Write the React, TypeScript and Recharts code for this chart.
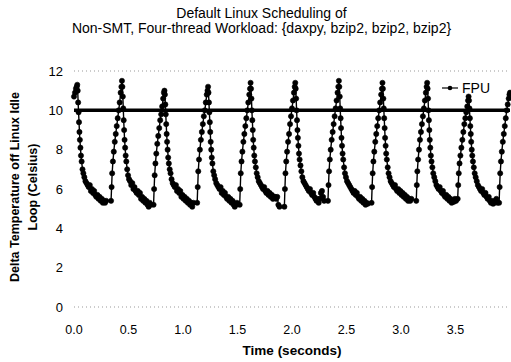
import React from "react";
import { LineChart, Line, XAxis, YAxis, ReferenceLine, Legend } from "recharts";

const FONT = '"Liberation Sans", Arial, Helvetica, sans-serif';

const titleLines = ["Default Linux Scheduling of", "Non-SMT, Four-thread Workload: {daxpy, bzip2, bzip2, bzip2}"];
const yTitleLines = ["Delta Temperature off Linux Idle", "Loop (Celsius)"];
const xTitle = "Time (seconds)";
const seriesName = "FPU";
const xTicks = [0, 0.5, 1.0, 1.5, 2.0, 2.5, 3.0, 3.5];
const yTicks = [0, 2, 4, 6, 8, 10, 12];
const thresholdValue = 10;

// seconds after each cycle's rise begins, at which a sample was taken
const sampleOffsets = [
  0, 0.005, 0.01, 0.017, 0.025, 0.034, 0.043, 0.052, 0.061, 0.07, 0.079, 0.088, 0.095, 0.1,
  0.104, 0.108, 0.112, 0.116, 0.12, 0.124, 0.129, 0.134, 0.14,
  0.148, 0.156, 0.165, 0.175, 0.185, 0.195,
  0.205, 0.215, 0.225, 0.235, 0.245, 0.255, 0.265, 0.275, 0.285, 0.295, 0.305, 0.315, 0.325, 0.335, 0.345, 0.355, 0.365,
];

const cycleStarts = [-0.07, 0.34, 0.73, 1.13, 1.52, 1.93, 2.33, 2.73, 3.14, 3.52, 3.9];

const cycle01 = [
  null, null, null, null, null, null, null, null, null, 10.7, 10.9, 11.1, 11.2, 11.3,
  11.0, 10.4, 9.9, 9.4, 8.9, 8.5, 8.1, 7.7, 7.4,
  7.0, 6.8, 6.6, 6.4, 6.3, 6.2,
  6.1, 6.2, 5.9, 6.0, 5.8, 5.9, 5.7, 5.6, 5.7, 5.5, 5.6, 5.4, 5.5, 5.3, 5.4, 5.3, 5.4,
];
const cycle02 = [
  5.4, 6.1, 6.8, 7.4, 7.9, 8.4, 8.8, 9.2, 9.6, 10.0, 10.4, 10.9, 11.2, 11.5,
  11.2, 10.7, 10.1, 9.5, 9.0, 8.5, 8.1, 7.7, 7.4,
  7.0, 6.7, 6.5, 6.4, 6.2, 6.3,
  6.0, 6.1, 5.9, 5.8, 5.9, 5.7, 5.8, 5.5, 5.6, 5.4, 5.5, 5.3, 5.4, 5.2, 5.1, 5.3, 5.2,
];
const cycle03 = [
  5.2, 6.0, 6.7, 7.3, 7.8, 8.3, 8.7, 9.1, 9.5, 9.8, 10.2, 10.6, 10.9, 11.0,
  10.8, 10.3, 9.8, 9.3, 8.8, 8.4, 8.0, 7.6, 7.3,
  7.0, 6.8, 6.5, 6.3, 6.2, 6.1,
  6.2, 5.9, 6.0, 5.8, 5.9, 5.6, 5.7, 5.5, 5.6, 5.4, 5.5, 5.3, 5.4, 5.2, 5.3, 5.1, 5.3,
];
const cycle04 = [
  5.3, 6.1, 6.9, 7.5, 8.0, 8.5, 8.9, 9.3, 9.7, 10.0, 10.4, 10.8, 11.0, 11.2,
  10.9, 10.4, 9.9, 9.4, 8.9, 8.4, 8.0, 7.6, 7.3,
  6.9, 6.7, 6.5, 6.3, 6.2, 6.1,
  6.0, 6.1, 5.8, 5.9, 5.7, 5.8, 5.6, 5.5, 5.6, 5.4, 5.5, 5.3, 5.4, 5.2, 5.1, 5.2, 5.3,
];
const cycle05 = [
  5.2, 6.0, 6.8, 7.4, 7.9, 8.4, 8.8, 9.2, 9.6, 10.0, 10.4, 10.8, 11.1, 11.4,
  11.1, 10.6, 10.0, 9.5, 9.0, 8.5, 8.1, 7.7, 7.4,
  7.1, 6.8, 6.6, 6.4, 6.3, 6.2,
  6.1, 6.0, 6.1, 5.9, 5.8, 5.9, 5.7, 5.8, 5.6, 5.7, 5.5, 5.6, 5.6, 5.5, 5.6, 5.2, 5.1,
];
const cycle06 = [
  5.1, 6.0, 6.8, 7.4, 7.9, 8.4, 8.8, 9.3, 9.7, 10.1, 10.5, 10.9, 11.2, 11.4,
  11.1, 10.6, 10.0, 9.5, 9.0, 8.6, 8.2, 7.8, 7.5,
  7.2, 6.9, 6.6, 6.4, 6.3, 6.2,
  6.1, 6.0, 5.9, 6.0, 5.8, 5.7, 5.8, 5.6, 5.5, 5.4, 5.5, 5.3, 5.5, 5.8, 5.9, 5.6, 5.4,
];
const cycle07 = [
  5.4, 6.2, 6.9, 7.5, 8.0, 8.5, 8.9, 9.3, 9.7, 10.1, 10.5, 10.9, 11.2, 11.5,
  11.2, 10.7, 10.1, 9.6, 9.1, 8.6, 8.2, 7.8, 7.5,
  7.1, 6.8, 6.6, 6.4, 6.3, 6.2,
  6.1, 6.0, 5.9, 5.8, 5.9, 5.7, 5.8, 5.6, 5.5, 5.6, 5.4, 5.5, 5.3, 5.4, 5.2, 5.3, 5.25,
];
const cycle08 = [
  5.3, 6.1, 6.8, 7.4, 7.9, 8.4, 8.8, 9.2, 9.6, 10.0, 10.4, 10.8, 11.1, 11.4,
  11.1, 10.6, 10.1, 9.6, 9.1, 8.6, 8.2, 7.8, 7.5,
  7.1, 6.8, 6.6, 6.4, 6.3, 6.2,
  6.1, 6.2, 6.0, 5.9, 6.0, 5.8, 5.9, 5.7, 5.8, 5.6, 5.7, 5.5, 5.6, 5.4, 5.5, 5.4, 5.5,
];
const cycle09 = [
  5.4, 6.2, 6.9, 7.5, 8.0, 8.5, 8.9, 9.3, 9.7, 10.1, 10.5, 10.9, 11.2, 11.4,
  11.1, 10.6, 10.0, 9.5, 9.0, 8.5, 8.1, 7.7, 7.4,
  7.1, 6.8, 6.6, 6.4, 6.2, 6.1,
  6.0, 6.1, 5.9, 5.8, 5.9, 5.7, 5.6, 5.7, 5.5, 5.6, 5.4, 5.5, 5.3, 5.4, 5.35, 5.5, 5.4,
];
const cycle10 = [
  5.5, 6.2, 6.8, 7.3, 7.7, 8.1, 8.5, 8.9, 9.3, 9.6, 9.9, 10.2, 10.5, 10.7,
  10.5, 10.1, 9.6, 9.2, 8.8, 8.4, 8.0, 7.7, 7.4,
  7.1, 6.8, 6.6, 6.4, 6.2, 6.1,
  6.0, 5.9, 6.0, 5.8, 5.7, 5.8, 5.6, 5.5, 5.6, 5.4, 5.3, 5.4, 5.25, 5.3, 5.4, 5.5, 5.3,
];
const cycle11 = [5.3, 6.1, 6.8, 7.4, 7.9, 8.4, 8.8, 9.2, 9.6, 10.0, 10.3, 10.6, 10.8, 10.9];

const cycleValues = [cycle01, cycle02, cycle03, cycle04, cycle05, cycle06, cycle07, cycle08, cycle09, cycle10, cycle11];

const data: { t: number; v: number }[] = [];
cycleValues.forEach((vals, c) => {
  vals.forEach((v, i) => {
    if (v === null || v === undefined) return;
    data.push({ t: Math.round((cycleStarts[c] + sampleOffsets[i]) * 1000) / 1000, v: v as number });
  });
});
data.sort((a, b) => a.t - b.t);

const renderLegend = () => (
  <div style={{ display: "flex", alignItems: "center", fontFamily: FONT, fontSize: 14, color: "#000" }}>
    <svg width={18} height={10} style={{ marginRight: 3 }}>
      <line x1={1} y1={5} x2={17} y2={5} stroke="#000" strokeWidth={1.2} />
      <circle cx={9} cy={5} r={2.3} fill="#000" />
    </svg>
    <span>{seriesName}</span>
  </div>
);

export default function App() {
  return (
    <div style={{ position: "absolute", left: 0, top: 0, width: 511, height: 362, background: "#fff", fontFamily: FONT }}>
      <LineChart width={511} height={362} data={data} margin={{ top: 71, right: 1, bottom: 0, left: 0 }}>
        <XAxis
          type="number"
          dataKey="t"
          domain={[0, 4]}
          ticks={xTicks}
          tickFormatter={(v: number) => v.toFixed(1)}
          axisLine={false}
          tickLine={false}
          tickSize={0}
          tickMargin={18}
          height={55}
          tick={{ fontSize: 12.5, fill: "#000", fontFamily: FONT }}
          label={{ value: xTitle, position: "insideBottom", offset: 7, fontSize: 13.5, fontWeight: "bold", fill: "#000", fontFamily: FONT }}
        />
        <YAxis
          type="number"
          domain={[0, 12]}
          ticks={yTicks}
          axisLine={false}
          tickLine={false}
          tickSize={0}
          tickMargin={11}
          width={74}
          tick={{ fontSize: 13, fill: "#000", fontFamily: FONT }}
        />
        <ReferenceLine y={12} stroke="#999" strokeDasharray="1 3" />
        <ReferenceLine y={0} stroke="#999" strokeDasharray="1 3" />
        <ReferenceLine y={thresholdValue} stroke="#000" strokeWidth={3.5} />
        <Line
          type="linear"
          dataKey="v"
          name={seriesName}
          stroke="#000"
          strokeWidth={1.4}
          dot={{ r: 2.6, fill: "#000", stroke: "#000", strokeWidth: 0.6 }}
          isAnimationActive={false}
        />
        <Legend
          layout="horizontal"
          verticalAlign="middle"
          align="center"
          content={renderLegend}
          wrapperStyle={{ position: "absolute", left: 441, top: 80, width: 60, height: 18 }}
        />
      </LineChart>
      <div
        style={{
          position: "absolute",
          left: 6,
          top: 6,
          width: 511,
          textAlign: "center",
          fontSize: 14,
          lineHeight: "15px",
          color: "#000",
        }}
      >
        {titleLines.map((l) => (
          <div key={l}>{l}</div>
        ))}
      </div>
      <div
        style={{
          position: "absolute",
          left: 24,
          top: 187,
          transform: "translate(-50%, -50%) rotate(-90deg)",
          whiteSpace: "nowrap",
          textAlign: "center",
          fontSize: 12.5,
          fontWeight: "bold",
          lineHeight: "18px",
          color: "#000",
        }}
      >
        {yTitleLines.map((l) => (
          <div key={l}>{l}</div>
        ))}
      </div>
    </div>
  );
}
